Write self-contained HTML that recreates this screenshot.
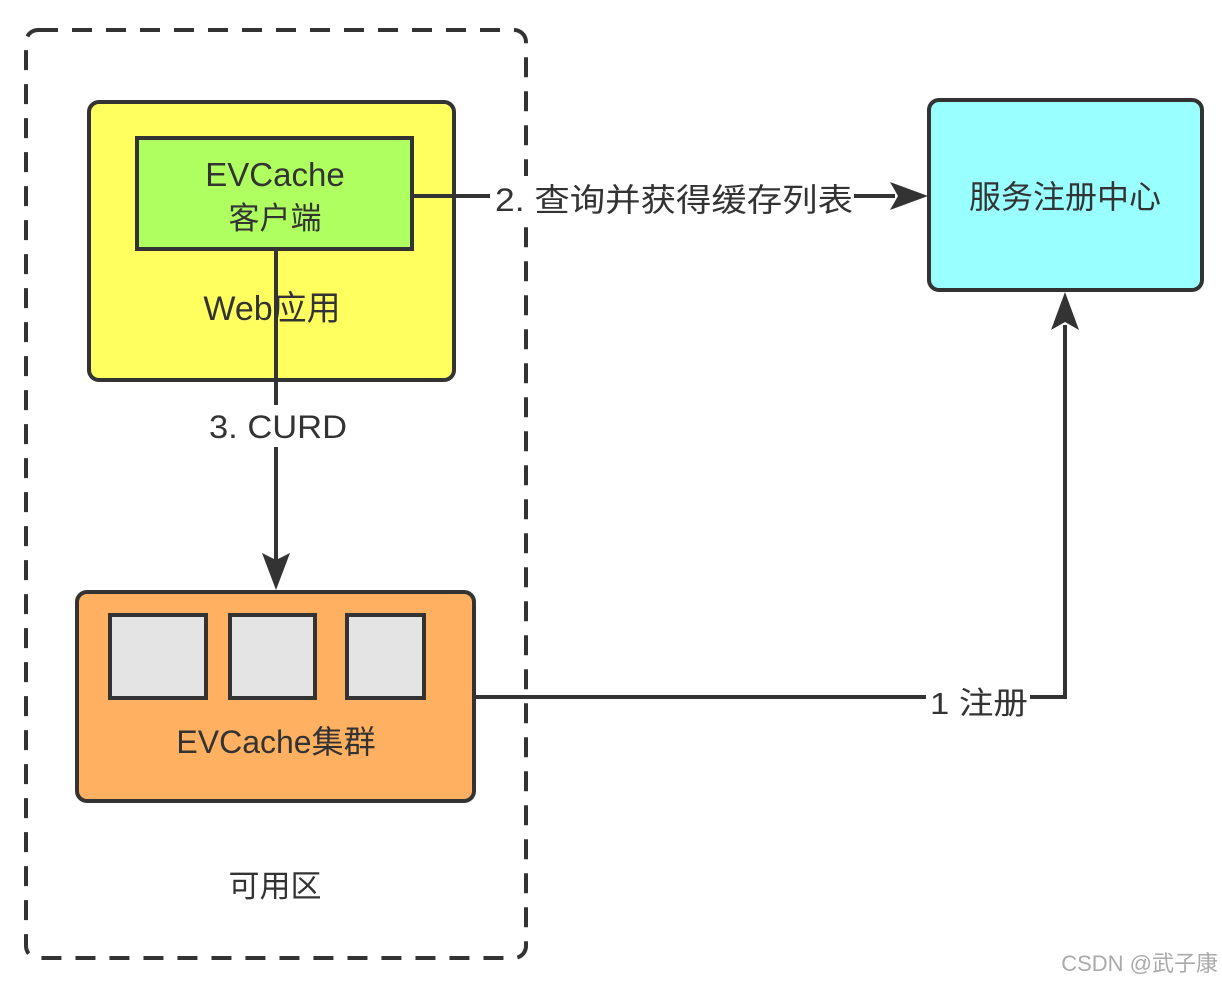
<!DOCTYPE html>
<html><head><meta charset="utf-8"><style>
html,body{margin:0;padding:0;background:#fff;}
svg text{font-family:"Liberation Sans","Noto Sans CJK SC",sans-serif;fill:#333;}
</style></head><body>
<svg width="1222" height="982" viewBox="0 0 1222 982" xmlns="http://www.w3.org/2000/svg">
<rect x="26" y="30" width="500" height="928" rx="12" fill="none" stroke="#333" stroke-width="4" stroke-dasharray="20 14"/>
<rect x="89" y="102" width="365" height="278" rx="10" fill="#ffff60" stroke="#333" stroke-width="4"/>
<rect x="137" y="138" width="275" height="111" fill="#b0ff60" stroke="#333" stroke-width="4"/>
<text x="275" y="186" font-size="33" text-anchor="middle">EVCache</text>
<text x="275" y="229" font-size="31" text-anchor="middle">客户端</text>
<text x="272" y="320" font-size="34" text-anchor="middle">Web应用</text>
<rect x="929" y="100" width="273" height="190" rx="10" fill="#99ffff" stroke="#333" stroke-width="4"/>
<text x="1065" y="208" font-size="32" text-anchor="middle">服务注册中心</text>
<rect x="77" y="592" width="397" height="209" rx="10" fill="#ffb060" stroke="#333" stroke-width="4"/>
<rect x="110" y="615" width="96" height="83" fill="#e4e4e4" stroke="#333" stroke-width="4"/>
<rect x="230" y="615" width="85" height="83" fill="#e4e4e4" stroke="#333" stroke-width="4"/>
<rect x="347" y="615" width="77" height="83" fill="#e4e4e4" stroke="#333" stroke-width="4"/>
<text x="276" y="753" font-size="32" text-anchor="middle">EVCache集群</text>
<text x="275" y="897" font-size="31" text-anchor="middle">可用区</text>
<line x1="412" y1="196" x2="895" y2="196" stroke="#333" stroke-width="4"/>
<polygon points="928,196 890,182 898,196 890,210" fill="#333"/>
<rect x="490" y="176" width="364" height="44" fill="#fff"/>
<text x="495" y="211" font-size="32" textLength="358" lengthAdjust="spacingAndGlyphs">2. 查询并获得缓存列表</text>
<line x1="276" y1="251" x2="276" y2="560" stroke="#333" stroke-width="4"/>
<polygon points="276,590 262,553 276,560 290,553" fill="#333"/>
<rect x="205" y="405" width="145" height="42" fill="#fff"/>
<text x="209" y="438" font-size="32" textLength="138" lengthAdjust="spacingAndGlyphs">3. CURD</text>
<polyline points="474,697 1065,697 1065,325" fill="none" stroke="#333" stroke-width="4"/>
<polygon points="1065,292 1051,330 1065,322 1079,330" fill="#333"/>
<rect x="926" y="680" width="104" height="40" fill="#fff"/>
<text x="930" y="714" font-size="31" textLength="98" lengthAdjust="spacingAndGlyphs">1 注册</text>
<text x="1218" y="971" font-size="22" text-anchor="end" style="fill:#aaa">CSDN @武子康</text>
</svg>
</body></html>
